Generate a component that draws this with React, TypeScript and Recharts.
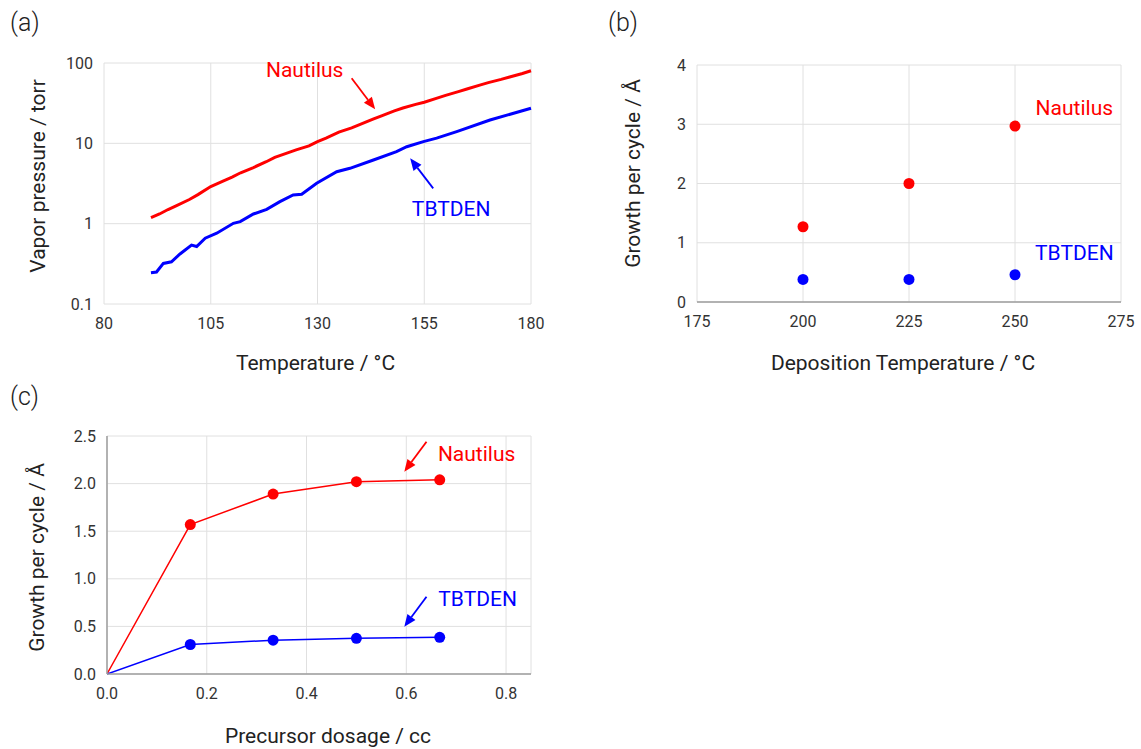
import React from "react"
import {
  LineChart,
  Line,
  ScatterChart,
  Scatter,
  XAxis,
  YAxis,
  CartesianGrid,
  ReferenceLine,
  ReferenceDot,
} from "recharts"

const RED = "#ff0000"
const BLUE = "#0000ff"
const FONT = "Roboto, Arial, sans-serif"
const GRID = "#e0e0e0"
const AXIS = "#9e9e9e"

// (a) vapor pressure, [temperature °C, torr]
const nautilusVapor = [
  [91, 1.19], [93, 1.32], [95, 1.5], [97, 1.68], [100, 2.0], [102, 2.3], [105, 2.9],
  [108, 3.4], [110, 3.8], [112, 4.3], [115, 5.0], [118, 5.9], [120, 6.7], [122, 7.3],
  [125, 8.3], [128, 9.3], [130, 10.5], [132, 11.6], [135, 13.8], [138, 15.6], [140, 17.2],
  [143, 20.0], [145, 22.0], [148, 25.3], [150, 27.5], [153, 30.5], [155, 32.5], [158, 36.5],
  [160, 39.5], [163, 44], [165, 47.5], [168, 53], [170, 57], [173, 62.5], [175, 67],
  [178, 74], [180, 80],
]
const tbtdenVapor = [
  [91, 0.245], [92.3, 0.25], [93.9, 0.32], [95.8, 0.335], [97.8, 0.42], [100.5, 0.54],
  [101.7, 0.52], [103.7, 0.66], [106.4, 0.76], [110.3, 1.01], [111.9, 1.06], [115, 1.32],
  [118.1, 1.51], [121.2, 1.88], [124.3, 2.28], [126.3, 2.32], [129.8, 3.18], [134.5, 4.43],
  [137.6, 4.89], [143.1, 6.2], [148.5, 7.87], [150.9, 9.08], [154.8, 10.5], [157.9, 11.6],
  [162.6, 14], [170.4, 19.5], [180, 27.3],
]
const tempTicks = [80, 105, 130, 155, 180]
const pressureTicks = [0.1, 1, 10, 100]

// (b) growth per cycle vs deposition temperature
const depTemps = [200, 225, 250]
const nautilusGpcByTemp = [1.27, 2.0, 2.97]
const tbtdenGpcByTemp = [0.38, 0.38, 0.46]
const depTempTicks = [175, 200, 225, 250, 275]
const gpcTicks = [0, 1, 2, 3, 4]

// (c) growth per cycle vs precursor dosage
const dosages = [0, 0.167, 0.333, 0.5, 0.667]
const nautilusGpcByDose = [0, 1.57, 1.89, 2.02, 2.04]
const tbtdenGpcByDose = [0, 0.31, 0.355, 0.375, 0.385]
const doseTicks = [0, 0.2, 0.4, 0.6, 0.8]
const gpcDoseTicks = [0, 0.5, 1, 1.5, 2, 2.5]

const toXY = (pairs: number[][]) => pairs.map(([x, y]) => ({ x, y }))
const zipXY = (xs: number[], ys: number[]) => xs.map((x, i) => ({ x, y: ys[i] }))

const tickStyle = { fontSize: 16, fill: "#333", fontFamily: FONT }

const xTitle = (text: string, dy: number, dx = 0) => (props: any) => {
  const vb = props.viewBox
  return (
    <text
      x={vb.x + vb.width / 2 + dx}
      y={vb.y + dy}
      textAnchor="middle"
      dominantBaseline="central"
      fontSize={21}
      fill="#222"
      fontFamily={FONT}
    >
      {text}
    </text>
  )
}

const yTitle = (text: string, fromPlot: number, dy: number) => (props: any) => {
  const vb = props.viewBox
  const cx = vb.x + vb.width - fromPlot
  const cy = vb.y + vb.height / 2 + dy
  return (
    <text
      x={cx}
      y={cy}
      transform={`rotate(-90 ${cx} ${cy})`}
      textAnchor="middle"
      dominantBaseline="central"
      fontSize={21}
      fill="#222"
      fontFamily={FONT}
    >
      {text}
    </text>
  )
}

const arrow = (color: string) => (p: any) => {
  const { x1, y1, x2, y2 } = p
  const ang = Math.atan2(y2 - y1, x2 - x1)
  const len = 12
  const half = 5
  const bx = x2 - len * Math.cos(ang)
  const by = y2 - len * Math.sin(ang)
  const pts = `${x2},${y2} ${bx + half * Math.sin(ang)},${by - half * Math.cos(ang)} ${bx - half * Math.sin(ang)},${by + half * Math.cos(ang)}`
  return (
    <g>
      <line x1={x1} y1={y1} x2={bx} y2={by} stroke={color} strokeWidth={1.8} />
      <polygon points={pts} fill={color} />
    </g>
  )
}

const tag = (value: string, color: string) => ({
  value,
  position: "center" as const,
  fill: color,
  fontSize: 21,
  fontFamily: FONT,
})

const panelLetter = (text: string, left: number, top: number) => (
  <div
    style={{
      position: "absolute",
      left,
      top,
      fontSize: 25,
      fontWeight: 300,
      lineHeight: "28px",
      fontFamily: FONT,
      color: "#222",
    }}
  >
    {text}
  </div>
)

function VaporPanel() {
  return (
    <LineChart width={560} height={380} margin={{ top: 63, right: 29, left: 44, bottom: 46 }}>
      <CartesianGrid stroke={GRID} />
      <XAxis
        type="number"
        dataKey="x"
        domain={[80, 180]}
        ticks={tempTicks}
        axisLine={false}
        tickLine={false}
        tickMargin={8}
        tick={tickStyle}
        height={30}
        label={{ content: xTitle("Temperature / °C", 58.5, -2) }}
      />
      <YAxis
        type="number"
        scale="log"
        domain={[0.1, 100]}
        ticks={pressureTicks}
        allowDataOverflow
        axisLine={false}
        tickLine={false}
        tickMargin={5}
        tick={tickStyle}
        width={60}
        tickFormatter={(v) => String(v)}
        label={{ content: yTitle("Vapor pressure / torr", 66.4, -7.5) }}
      />
      <Line data={toXY(nautilusVapor)} dataKey="y" type="linear" stroke={RED} strokeWidth={3} dot={false} isAnimationActive={false} />
      <Line data={toXY(tbtdenVapor)} dataKey="y" type="linear" stroke={BLUE} strokeWidth={3} dot={false} isAnimationActive={false} />
      <ReferenceLine segment={[{ x: 138, y: 64.5 }, { x: 143.5, y: 26.5 }]} shape={arrow(RED)} />
      <ReferenceLine segment={[{ x: 157.1, y: 2.75 }, { x: 151.7, y: 6.5 }]} shape={arrow(BLUE)} />
      <ReferenceDot x={127} y={83.5} r={0} fill="none" stroke="none" label={tag("Nautilus", RED)} />
      <ReferenceDot x={161.3} y={1.55} r={0} fill="none" stroke="none" label={tag("TBTDEN", BLUE)} />
    </LineChart>
  )
}

function TemperaturePanel() {
  const dot = (color: string) => (p: any) => <circle cx={p.cx} cy={p.cy} r={5.5} fill={color} />
  return (
    <ScatterChart width={561} height={380} margin={{ top: 65, right: 20, left: 57, bottom: 48 }}>
      <CartesianGrid stroke={GRID} />
      <XAxis
        type="number"
        dataKey="x"
        domain={[175, 275]}
        ticks={depTempTicks}
        axisLine={{ stroke: AXIS, strokeWidth: 1.5 }}
        tickLine={false}
        tickMargin={8}
        tick={tickStyle}
        height={30}
        label={{ content: xTitle("Deposition Temperature / °C", 60.5, -6) }}
      />
      <YAxis
        type="number"
        dataKey="y"
        domain={[0, 4]}
        ticks={gpcTicks}
        axisLine={false}
        tickLine={false}
        tickMargin={5}
        tick={tickStyle}
        width={60}
        label={{ content: yTitle("Growth per cycle / Å", 64.5, -10) }}
      />
      <Scatter data={zipXY(depTemps, nautilusGpcByTemp)} shape={dot(RED)} isAnimationActive={false} />
      <Scatter data={zipXY(depTemps, tbtdenGpcByTemp)} shape={dot(BLUE)} isAnimationActive={false} />
      <ReferenceDot x={264} y={3.29} r={0} fill="none" stroke="none" label={tag("Nautilus", RED)} />
      <ReferenceDot x={264} y={0.83} r={0} fill="none" stroke="none" label={tag("TBTDEN", BLUE)} />
    </ScatterChart>
  )
}

function DosagePanel() {
  const dot = (color: string) => (p: any) =>
    p.payload.x === 0 ? (
      <g key={p.index} />
    ) : (
      <circle key={p.index} cx={p.cx} cy={p.cy} r={5.5} fill={color} />
    )
  return (
    <LineChart width={560} height={369} margin={{ top: 56, right: 29, left: 47, bottom: 45 }}>
      <CartesianGrid stroke={GRID} />
      <XAxis
        type="number"
        dataKey="x"
        domain={[0, 0.85]}
        ticks={doseTicks}
        allowDataOverflow
        axisLine={{ stroke: AXIS, strokeWidth: 1.5 }}
        tickLine={false}
        tickMargin={8}
        tick={tickStyle}
        tickFormatter={(v) => Number(v).toFixed(1)}
        height={30}
        label={{ content: xTitle("Precursor dosage / cc", 61.5, 9) }}
      />
      <YAxis
        type="number"
        domain={[0, 2.5]}
        ticks={gpcDoseTicks}
        axisLine={{ stroke: AXIS, strokeWidth: 1.5 }}
        tickLine={false}
        tickMargin={5}
        tick={tickStyle}
        tickFormatter={(v) => Number(v).toFixed(1)}
        width={60}
        label={{ content: yTitle("Growth per cycle / Å", 69.7, 2.5) }}
      />
      <Line data={zipXY(dosages, nautilusGpcByDose)} dataKey="y" type="linear" stroke={RED} strokeWidth={1.5} dot={dot(RED)} isAnimationActive={false} />
      <Line data={zipXY(dosages, tbtdenGpcByDose)} dataKey="y" type="linear" stroke={BLUE} strokeWidth={1.5} dot={dot(BLUE)} isAnimationActive={false} />
      <ReferenceLine segment={[{ x: 0.6405, y: 2.44 }, { x: 0.596, y: 2.125 }]} shape={arrow(RED)} />
      <ReferenceLine segment={[{ x: 0.6405, y: 0.812 }, { x: 0.596, y: 0.497 }]} shape={arrow(BLUE)} />
      <ReferenceDot x={0.741} y={2.32} r={0} fill="none" stroke="none" label={tag("Nautilus", RED)} />
      <ReferenceDot x={0.743} y={0.795} r={0} fill="none" stroke="none" label={tag("TBTDEN", BLUE)} />
    </LineChart>
  )
}

export default function App() {
  return (
    <div
      style={{
        position: "absolute",
        left: 0,
        top: 0,
        width: 1141,
        height: 749,
        background: "#fff",
        fontFamily: FONT,
      }}
    >
      {panelLetter("(a)", 10, 9)}
      {panelLetter("(b)", 608, 9)}
      {panelLetter("(c)", 10, 383)}
      <div style={{ position: "absolute", left: 0, top: 0 }}>
        <VaporPanel />
      </div>
      <div style={{ position: "absolute", left: 580, top: 0 }}>
        <TemperaturePanel />
      </div>
      <div style={{ position: "absolute", left: 0, top: 380 }}>
        <DosagePanel />
      </div>
    </div>
  )
}
